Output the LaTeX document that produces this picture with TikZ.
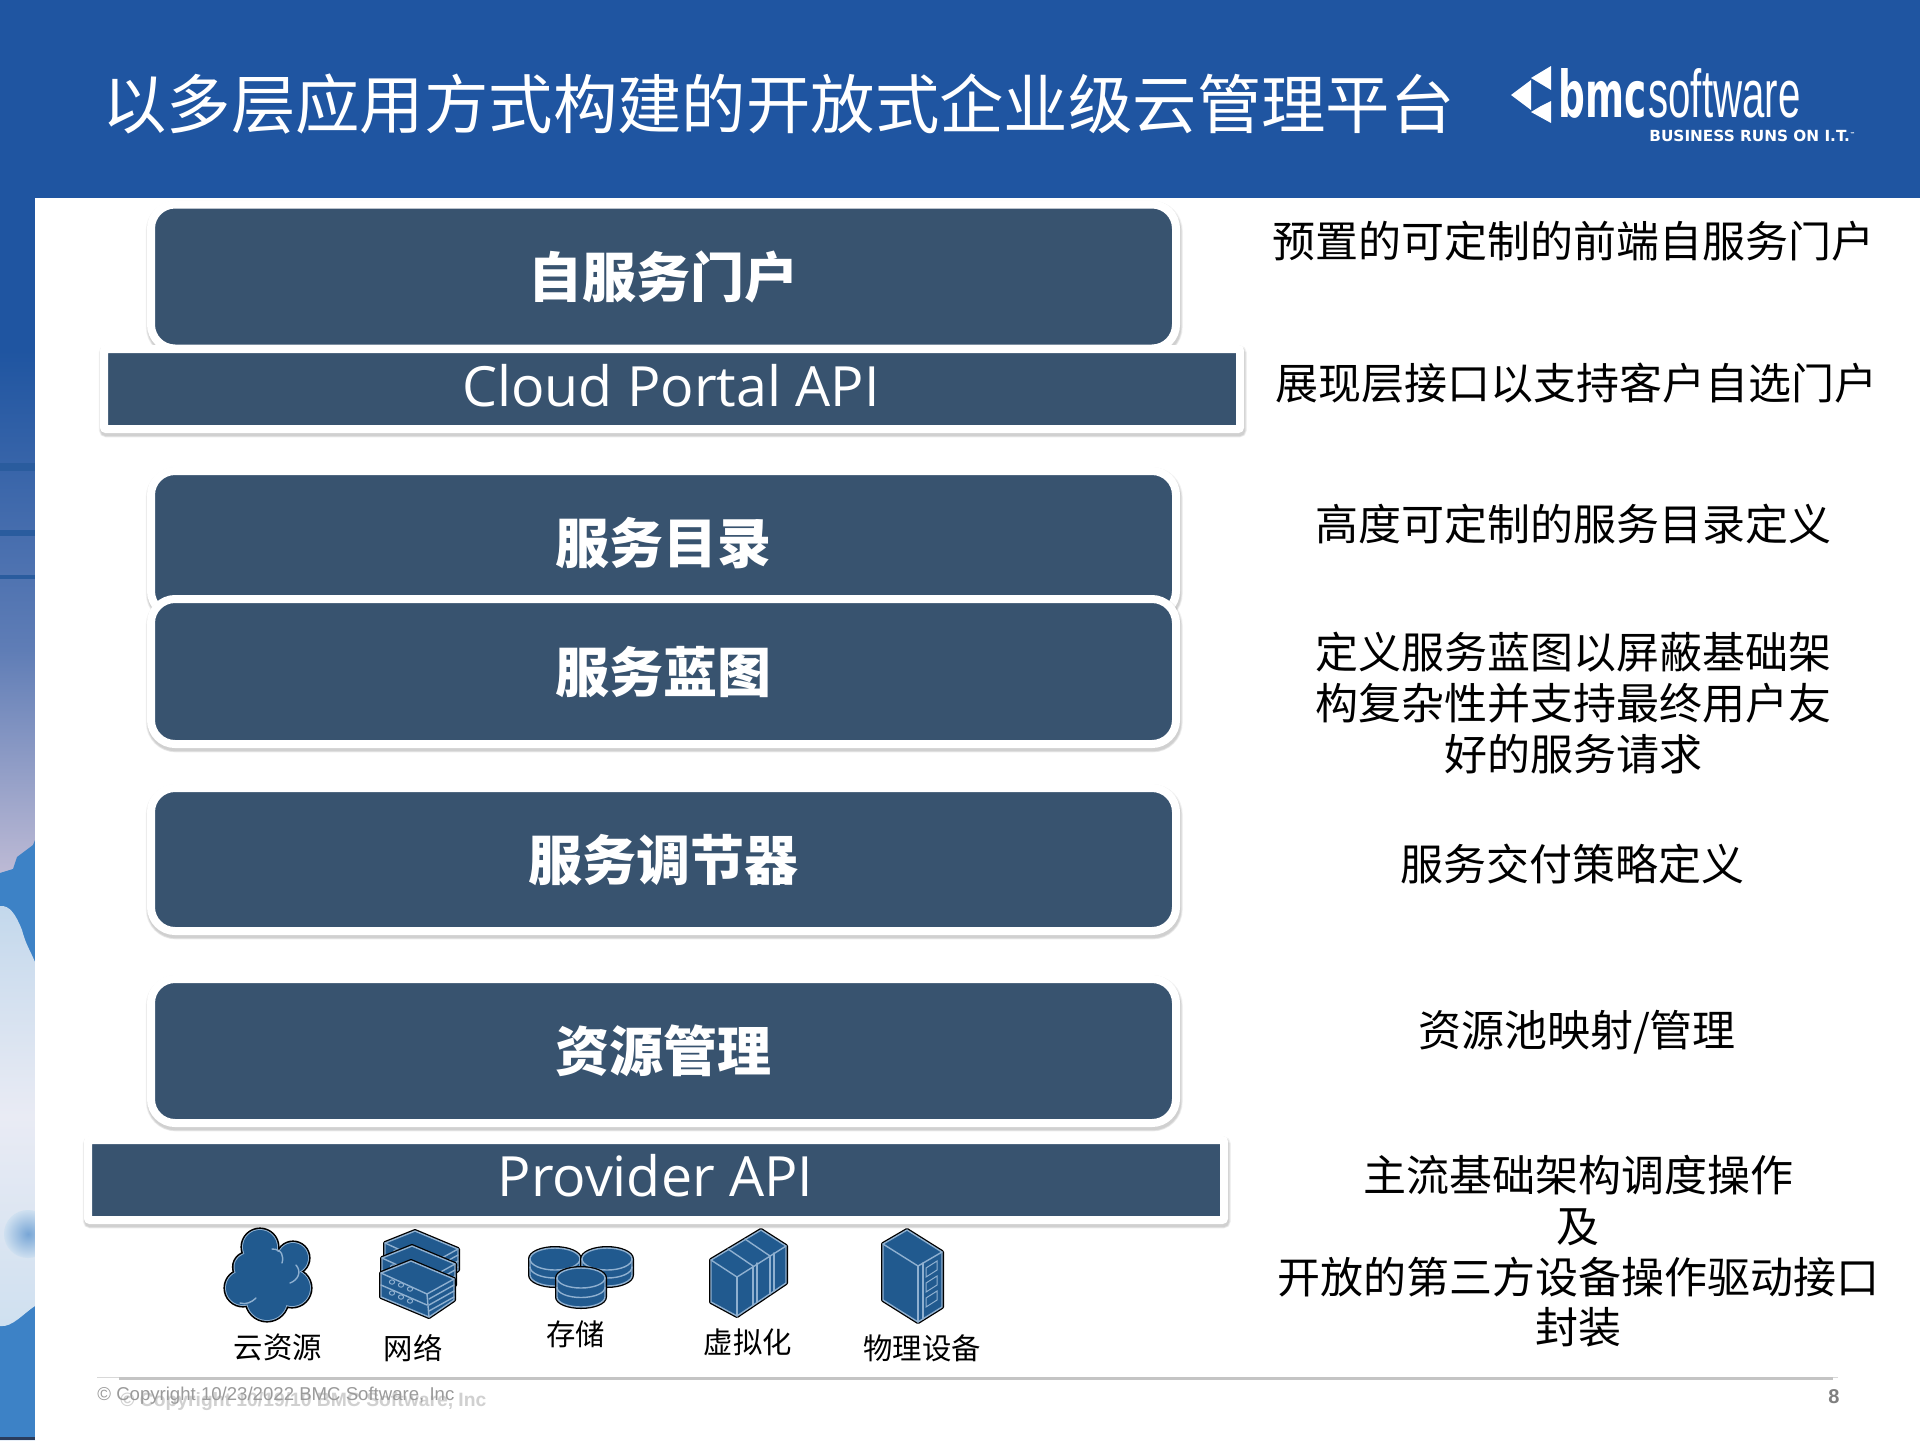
\documentclass[tikz,border=0pt]{standalone}
\usepackage{fontspec}
\usepackage{graphicx}
\setmainfont{Noto Sans CJK SC}
\newfontfamily\latinf{Open Sans}
\newfontfamily\arialf{Liberation Sans}
\newfontfamily\heavyf{DejaVu Sans}
\definecolor{topblue}{HTML}{1F55A1}
\definecolor{tierfill}{HTML}{38536F}
\definecolor{iconfill}{HTML}{215A8F}
\definecolor{iconline}{HTML}{8FB0D0}
\definecolor{skyblue}{HTML}{3D82C6}
\definecolor{skya}{HTML}{5F7DB6}
\definecolor{skyb}{HTML}{C0BCD6}
\definecolor{streak}{HTML}{2A5C9E}
\definecolor{clouda}{HTML}{C3D8EC}
\definecolor{cloudb}{HTML}{CFE0F0}
\definecolor{cloudc}{HTML}{E9EBF4}
\definecolor{patcha}{HTML}{78A6D6}
\definecolor{patchb}{HTML}{CFE0F0}
\definecolor{edgedark}{HTML}{2A3C5C}
\definecolor{ruleA}{HTML}{D8D8D8}
\definecolor{ruleB}{HTML}{C4C4C4}
\definecolor{cpA}{HTML}{D0D0D0}
\definecolor{cpB}{HTML}{9A9A9A}
\definecolor{pgc}{HTML}{7F7F7F}
\tikzset{
  softshadow/.style={
    preaction={draw=black,opacity=.07,line width=4.4pt,transform canvas={xshift=.4pt,yshift=-1.4pt}},
    preaction={draw=black,opacity=.07,line width=5.2pt,transform canvas={xshift=.4pt,yshift=-1.4pt}},
    preaction={draw=black,opacity=.05,line width=6pt,transform canvas={xshift=.4pt,yshift=-1.2pt}}},
  tier/.style={softshadow,draw=white,line width=4pt,fill=tierfill,rounded corners=12pt,
    minimum width=512.5pt,inner sep=0pt,outer sep=0pt,text=white,
    font=\fontsize{27}{30}\selectfont\bfseries},
  apibar/.style={softshadow,draw=white,line width=4pt,fill=tierfill,rounded corners=1pt,
    minimum width=568pt,minimum height=40pt,inner sep=0pt,outer sep=0pt,text=white},
  apitext/.style={text=white,inner sep=0pt,font=\fontsize{27.75}{32}\latinf\selectfont},
  note/.style={inner sep=0pt,align=center,text=black,font=\fontsize{21.5}{25.3}\selectfont},
  iconlabel/.style={inner sep=0pt,text=black,font=\fontsize{14.7}{17}\selectfont},
  ic/.style={preaction={draw=black,line width=2pt,line join=round},
    draw=iconline,fill=iconfill,line width=.7pt,line join=round},
  icl/.style={draw=iconline,line width=.7pt,line cap=round},
}
\newcommand{\netbox}{%
  \path[ic] (381,1273) -- (411,1261) -- (454,1279) -- (454,1300) -- (429,1317) -- (381,1297) -- cycle;
  \draw[icl] (381,1273) -- (427,1294) -- (454,1279);
  \draw[icl] (427,1294) -- (429,1317);
  \draw[icl] (381,1285) -- (427,1305);
  \draw[icl] (429,1299) -- (454,1285) (429,1305) -- (454,1291) (429,1311) -- (454,1297);
  \foreach \px/\py in {392/1282,401/1285,410/1289,392/1293,401/1297,410/1301}
    \draw[icl,line width=.5pt] (\px,\py) circle[x radius=2.6,y radius=2.2];
}
\newcommand{\drumicon}[5]{%
  \path[ic] (#1-#3,#2) arc[start angle=180,end angle=360,x radius=#3,y radius=#4]
     -- (#1+#3,#2+#5) arc[start angle=0,end angle=180,x radius=#3,y radius=#4] -- cycle;
  \draw[icl] (#1-#3,#2) arc[start angle=180,end angle=0,x radius=#3,y radius=#4];
  \draw[icl] (#1-#3,#2+.5*#5) arc[start angle=180,end angle=0,x radius=#3,y radius=#4];
}
\begin{document}
\begin{tikzpicture}[x=.5pt,y=-.5pt]
\useasboundingbox (0,0) rectangle (1920,1440);
% background
\fill[white] (0,0) rectangle (1920,1440);
\fill[topblue] (0,0) rectangle (1920,198);
\fill[topblue] (0,198) rectangle (35,350);
\shade[top color=topblue,bottom color=skya] (0,350) rectangle (35,650);
\shade[top color=skya,bottom color=skyb] (0,650) rectangle (35,880);
\foreach \sy/\sh in {467/8,533/6,577/4}
  \fill[streak] (0,\sy-.5*\sh) rectangle (35,\sy+.5*\sh);
\begin{scope}
\clip (0,0) rectangle (35,1440);
\fill[skyblue] (0,873) -- (13,869) -- (17,857) -- (33,845) -- (35,840) -- (35,1440) -- (0,1440) -- cycle;
\shade[top color=clouda,bottom color=cloudb,middle color=cloudc]
  (0,906) .. controls (10,905) and (16,915) .. (22,930) .. controls (26,945) and (30,950) .. (35,962)
  -- (35,1306) .. controls (25,1312) and (12,1328) .. (0,1326) -- cycle;
\shade[inner color=patcha,outer color=patchb] (28,1234) ellipse[x radius=24,y radius=24];
\fill[edgedark] (0,1437) rectangle (35,1440);
\end{scope}
\fill[white] (35,198) rectangle (1920,1440);
% title
\node[text=white,inner sep=0pt,font=\fontsize{32.2}{36}\selectfont] (title) at (778.5,104) {以多层应用方式构建的开放式企业级云管理平台};
% logo
\fill[white] (1511,95) -- (1531,80) -- (1531,110) -- cycle;
\fill[white] (1531,78) -- (1551,66) -- (1551,90) -- (1541,84) -- cycle;
\fill[white] (1531,112) -- (1541,106) -- (1551,101) -- (1551,123) -- cycle;
\node[anchor=south west,inner sep=0pt,text=white] (logobmc) at (1558,119)
  {\resizebox{44pt}{24.5pt}{\heavyf\bfseries bmc}};
\node[anchor=south west,inner sep=0pt,text=white] (logosoft) at (1648,119)
  {\resizebox{76pt}{24.5pt}{\arialf software}};
\node[anchor=west,inner sep=0pt,text=white] (logotag) at (1649,136)
  {\resizebox{103pt}{!}{\heavyf\bfseries\fontsize{14}{16}\selectfont BUSINESS RUNS ON I.T.\raisebox{5pt}{\fontsize{5}{6}\selectfont ™}}};
% tiers
\node[tier,minimum height=72pt] (portal) at (663.5,276.5) {自服务门户};
\node[apibar] (cpapi) at (672,389) {};
\node[apitext] (cpapit) at (671,386) {Cloud Portal API};
\node[tier,minimum height=72pt] (catalog) at (663.5,543) {服务目录};
\node[tier,minimum height=72.5pt] (blueprint) at (663.5,671.5) {服务蓝图};
\node[tier,minimum height=71.5pt] (regulator) at (663.5,859.5) {服务调节器};
\node[tier,minimum height=72pt] (resource) at (663.5,1051) {资源管理};
\node[apibar] (pvapi) at (656,1180) {};
\node[apitext] (pvapit) at (655.5,1176) {Provider API};
% right notes
\node[note] (n1) at (1573.5,241) {预置的可定制的前端自服务门户};
\node[note] (n2) at (1576.5,383) {展现层接口以支持客户自选门户};
\node[note] (n3) at (1573.5,524) {高度可定制的服务目录定义};
\node[note] (n4) at (1573,703) {定义服务蓝图以屏蔽基础架\\构复杂性并支持最终用户友\\好的服务请求};
\node[note] (n5) at (1572.5,864) {服务交付策略定义};
\node[note] (n6) at (1577,1032) {资源池映射/管理};
\node[note] (n7) at (1578,1251.5) {主流基础架构调度操作\\及\\开放的第三方设备操作驱动接口\\封装};
% cloud icon
\foreach \dr/\lc in {2.6/black,1/iconline,0/iconfill}{
  \foreach \px/\py/\pr in {260/1247/17,293/1258/15,248/1267/13.5,243/1288/17,267/1300/20,292/1288/18,267/1273/24}
    \fill[\lc] (\px,\py) circle[radius=\pr+\dr];
}
\draw[icl] (272,1249) .. controls (282,1249) and (284,1256) .. (282,1263);
\draw[icl] (296,1265) .. controls (302,1272) and (298,1280) .. (290,1283);
\draw[icl] (256,1298) .. controls (252,1302) and (246,1305) .. (240,1303);
% network icon
\begin{scope}[shift={(4,-30)}]\netbox\end{scope}
\begin{scope}[shift={(1,-15)}]\netbox\end{scope}
\netbox
% storage icon
\drumicon{555}{1259}{25}{11}{16}
\drumicon{607}{1259}{25}{11}{16}
\drumicon{581}{1278}{24}{10}{19}
% virtualization icon
\path[ic] (761,1230) -- (786,1246) -- (786,1283) -- (737,1316) -- (711,1302) -- (711,1260) -- cycle;
\draw[icl] (711,1260) -- (737,1277) -- (786,1246);
\draw[icl] (737,1277) -- (737,1316);
\draw[icl] (728,1249) -- (753,1266) (745,1239) -- (770,1256);
\draw[icl] (753,1266) -- (753,1305) (757,1263) -- (757,1302) (770,1256) -- (770,1294) (774,1253) -- (774,1291);
% physical icon
\path[ic] (907,1230) -- (942,1252) -- (942,1307) -- (918,1322) -- (883,1300) -- (883,1244) -- cycle;
\draw[icl] (883,1244) -- (918,1266) -- (942,1252);
\draw[icl] (918,1266) -- (918,1322);
\draw[icl] (923,1263) -- (923,1319);
\draw[icl,line width=.5pt] (926,1268) -- (937,1261) -- (937,1270) -- (926,1277) -- cycle;
\draw[icl,line width=.5pt] (926,1283) -- (937,1276) -- (937,1285) -- (926,1292) -- cycle;
\draw[icl,line width=.5pt] (926,1298) -- (937,1291) -- (937,1300) -- (926,1307) -- cycle;
% icon labels
\node[iconlabel] (l1) at (278,1347) {云资源};
\node[iconlabel] (l2) at (413,1348) {网络};
\node[iconlabel] (l3) at (575.5,1334) {存储};
\node[iconlabel] (l4) at (748,1342) {虚拟化};
\node[iconlabel] (l5) at (922,1348) {物理设备};
% footer
\coordinate (fa) at (97,1377);
\coordinate (fb) at (1838,1377);
\coordinate (fc) at (119,1378.5);
\coordinate (fd) at (1833,1378.5);
\draw[color=ruleA,line width=.5pt] (fa) -- (fb);
\draw[color=ruleB,line width=1.3pt] (fc) -- (fd);
\node[anchor=west,inner sep=0pt,text=cpA,font=\fontsize{9.65}{12}\arialf\bfseries\selectfont] (cp2) at (120,1402) {© Copyright 10/19/10 BMC Software, Inc};
\node[anchor=west,inner sep=0pt,text=cpB,font=\fontsize{9.3}{11}\arialf\selectfont] (cp1) at (97,1396) {© Copyright 10/23/2022 BMC Software, Inc};
\node[inner sep=0pt,text=pgc,font=\fontsize{10}{12}\arialf\bfseries\selectfont] (pg) at (1834,1397) {8};
\end{tikzpicture}
\end{document}
